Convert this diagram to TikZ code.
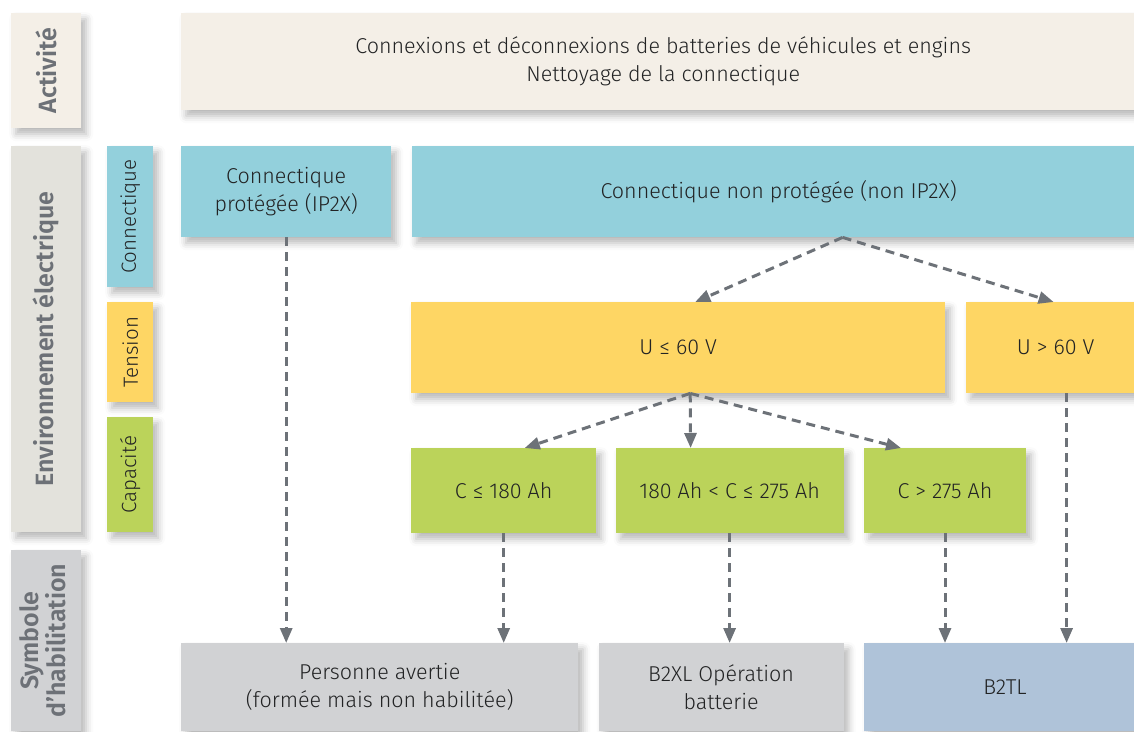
\documentclass[tikz,border=0pt]{standalone}
\usepackage{fontspec}
\setmainfont{Fira Sans}[UprightFont={* Light}, BoldFont={* SemiBold}]
\usetikzlibrary{positioning, arrows.meta, shadows.blur}

\definecolor{actbeige}{HTML}{F4EFE7}
\definecolor{envgray}{HTML}{E3E2DC}
\definecolor{cblue}{HTML}{93D0DC}
\definecolor{cyellow}{HTML}{FED664}
\definecolor{cgreen}{HTML}{BBD35A}
\definecolor{cgray}{HTML}{D1D2D4}
\definecolor{cbluegray}{HTML}{AFC3D9}
\definecolor{flowgray}{HTML}{6D7278}
\definecolor{txtdark}{HTML}{222324}
\definecolor{labgray}{HTML}{6D7177}

\begin{document}
\begin{tikzpicture}[
  x=1pt, y=-1pt,
  font=\fontsize{21.5}{28}\selectfont,
  box/.style={fill=#1, anchor=north west, align=center, inner sep=4pt,
              text=txtdark,
              blur shadow={shadow xshift=5pt, shadow yshift=-6pt,
                           shadow blur radius=7pt, shadow opacity=28}},
  side/.style={box=#1, font=\fontsize{25}{25}\bfseries, text=labgray},
  tag/.style={box=#1, font=\fontsize{20.5}{22}\selectfont},
  flow/.style={draw=flowgray, line width=3pt, dash pattern=on 9pt off 6pt,
               -{Triangle[length=15pt, width=12pt]}}
]
\useasboundingbox (0,0) rectangle (1134,731);
% row labels
\node[side=actbeige, minimum width=70, minimum height=115]  (lact) at (11,13)
  {\rotatebox{90}{Activité}};
\node[side=envgray, minimum width=70, minimum height=386]   (lenv) at (11,146)
  {\rotatebox{90}{Environnement électrique}};
\node[side=cgray, minimum width=70, minimum height=181]     (lsym) at (11,550)
  {\rotatebox{90}{\begin{tabular}{@{}c@{}}Symbole\\d’habilitation\end{tabular}}};
\node[tag=cblue, minimum width=46, minimum height=141]      (lcon) at (107,146)
  {\rotatebox{90}{Connectique}};
\node[tag=cyellow, minimum width=46, minimum height=100]    (lten) at (107,302)
  {\rotatebox{90}{Tension}};
\node[tag=cgreen, minimum width=46, minimum height=115]     (lcap) at (107,417)
  {\rotatebox{90}{Capacité}};
% activity
\node[box=actbeige, minimum width=964, minimum height=97] (act) at (181,13)
  {Connexions et déconnexions de batteries de véhicules et engins\\Nettoyage de la connectique};
% connectique
\node[box=cblue, minimum width=210, minimum height=91] (prot) at (181,146)
  {Connectique\\protégée (IP2X)};
\node[box=cblue, minimum width=734, minimum height=91,
      right=20pt of prot.north east, anchor=north west] (nonprot)
  {Connectique non protégée (non IP2X)};
% tension
\node[box=cyellow, minimum width=534, minimum height=91] (ule) at (411,302)
  {U ≤ 60 V};
\node[box=cyellow, minimum width=180, minimum height=91,
      right=20pt of ule.north east, anchor=north west] (ugt) {U > 60 V};
% capacite
\node[box=cgreen, minimum width=185, minimum height=85] (c1) at (411,448)
  {C ≤ 180 Ah};
\node[box=cgreen, minimum width=228, minimum height=85,
      right=19pt of c1.north east, anchor=north west] (c2) {180 Ah < C ≤ 275 Ah};
\node[box=cgreen, minimum width=162, minimum height=85,
      right=20pt of c2.north east, anchor=north west] (c3) {C > 275 Ah};
% habilitation
\node[box=cgray, minimum width=397, minimum height=88] (avertie) at (181,643)
  {Personne avertie\\(formée mais non habilitée)};
\node[box=cgray, minimum width=245, minimum height=88,
      right=20pt of avertie.north east, anchor=north west] (b2xl)
  {B2XL Opération\\batterie};
\node[box=cbluegray, minimum width=282, minimum height=88,
      right=20pt of b2xl.north east, anchor=north west] (b2tl) {B2TL};
% arrows
\draw[flow] ([xshift=64pt]nonprot.south) -- ([xshift=17pt]ule.north);
\draw[flow] ([xshift=64pt]nonprot.south) -- ([xshift=-2pt]ugt.north);
\draw[flow] ([xshift=12pt]ule.south) -- ([xshift=21pt]c1.north);
\draw[flow] ([xshift=12pt]ule.south) -- ([xshift=-39pt]c2.north);
\draw[flow] ([xshift=12pt]ule.south) -- ([xshift=-44pt]c3.north);
\draw[flow] (prot.south) -- (prot.south |- avertie.north);
\draw[flow] (c1.south) -- (c1.south |- avertie.north);
\draw[flow] (c2.south) -- (c2.south |- b2xl.north);
\draw[flow] (c3.south) -- (c3.south |- b2tl.north);
\draw[flow] ([xshift=11pt]ugt.south) -- ([xshift=11pt]ugt.south |- b2tl.north);
\end{tikzpicture}
\end{document}
